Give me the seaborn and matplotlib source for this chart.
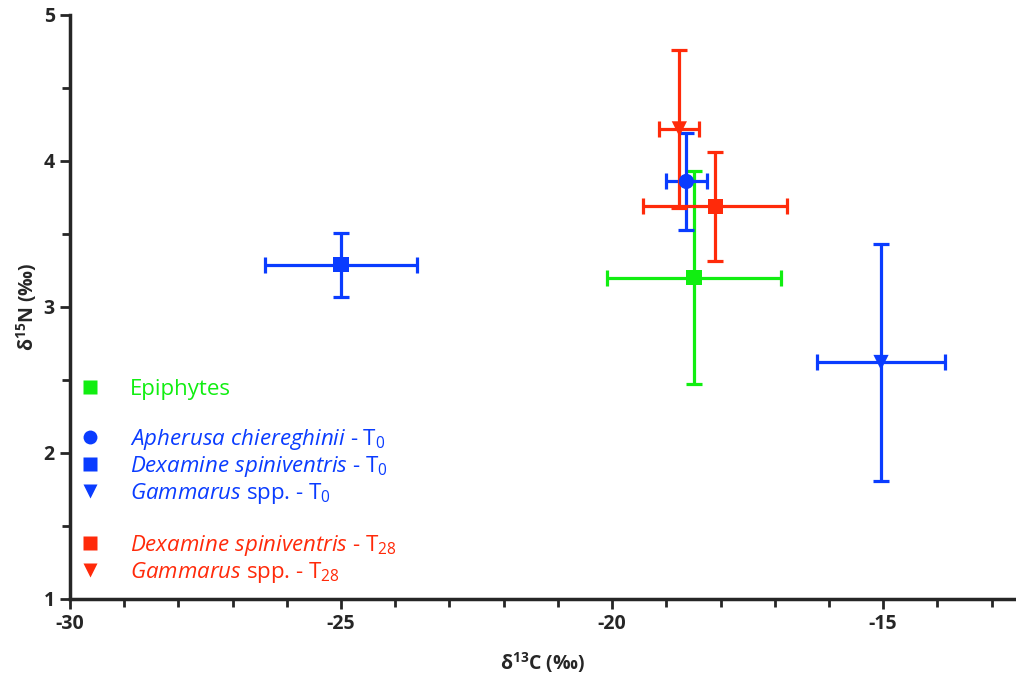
import numpy as np
import pandas as pd
import seaborn as sns
import matplotlib.pyplot as plt
from matplotlib.lines import Line2D

# Data (mean +/- SD)
groups = ["Epiphytes", "Apherusa T0", "Dexamine T0", "Gammarus T0", "Dexamine T28", "Gammarus T28"]
d13c = [-18.49, -18.63, -25.0, -15.04, -18.10, -18.76]
d15n = [3.20, 3.86, 3.29, 2.62, 3.69, 4.22]
d13c_sd = [1.61, 0.38, 1.41, 1.18, 1.33, 0.37]
d15n_sd = [0.73, 0.33, 0.22, 0.81, 0.375, 0.54]

legend_labels = [
    "Epiphytes",
    r"$\it{Apherusa\ chiereghinii}$ - T$_0$",
    r"$\it{Dexamine\ spiniventris}$ - T$_0$",
    r"$\it{Gammarus}$ spp. - T$_0$",
    r"$\it{Dexamine\ spiniventris}$ - T$_{28}$",
    r"$\it{Gammarus}$ spp. - T$_{28}$",
]

green, blue, red = "#11ee11", "#0a3cff", "#ff2a0a"
colors = dict(zip(groups, [green, blue, blue, blue, red, red]))
markers = dict(zip(groups, ["s", "o", "s", "v", "s", "v"]))

df = pd.DataFrame({"group": groups, "d13C": d13c, "d15N": d15n,
                   "sdC": d13c_sd, "sdN": d15n_sd})

sns.set_theme(style="ticks")
plt.rcParams["font.family"] = ["Open Sans", "DejaVu Sans"]
plt.rcParams["mathtext.fontset"] = "custom"
plt.rcParams["mathtext.rm"] = "Open Sans"
plt.rcParams["mathtext.it"] = "Open Sans:italic"
plt.rcParams["mathtext.bf"] = "Open Sans:bold"
plt.rcParams["axes.unicode_minus"] = False

fig = plt.figure(figsize=(10.16, 6.82), dpi=100)
ax = fig.add_axes([70 / 1016, 83 / 682, 946 / 1016, 584 / 682])

# error bars first, markers on top
for _, r in df.iterrows():
    ax.errorbar(r["d13C"], r["d15N"], xerr=r["sdC"], yerr=r["sdN"], fmt="none",
                ecolor=colors[r["group"]], elinewidth=2.3, capsize=6, capthick=2.3,
                zorder=2)

sns.scatterplot(data=df, x="d13C", y="d15N", hue="group", style="group",
                palette=colors, markers=markers, s=120, edgecolor="none",
                legend=False, ax=ax, zorder=3)

ax.set_xlim(-30, -12.55)
ax.set_ylim(1, 5)
ax.set_xticks([-30, -25, -20, -15])
ax.set_xticks(np.arange(-30, -12, 1), minor=True)
ax.set_yticks([1, 2, 3, 4, 5])
ax.set_yticks(np.arange(1, 5.01, 0.5), minor=True)
ax.tick_params(axis="both", which="major", length=7, width=2, direction="out",
               labelsize=14, pad=4)
ax.tick_params(axis="both", which="minor", length=6, width=2, direction="out")
for lab in ax.get_xticklabels() + ax.get_yticklabels():
    lab.set_fontweight("bold")

sns.despine(ax=ax)
ax.spines["left"].set_linewidth(2.5)
ax.spines["bottom"].set_linewidth(2.5)

ax.set_xlabel(r"δ$^{\mathbf{13}}$C (‰)", fontsize=14, fontweight="bold", labelpad=12)
ax.set_ylabel(r"δ$^{\mathbf{15}}$N (‰)", fontsize=14, fontweight="bold", labelpad=3)

# legend with blank spacer rows between groups
handles, labels, lcolors = [], [], []
order = [0, None, 1, 2, 3, None, 4, 5]
for i in order:
    if i is None:
        handles.append(Line2D([], [], linestyle="none", marker=None))
        labels.append(r"T$_0$")  # invisible spacer, same height as other rows
        lcolors.append("none")
    else:
        g = groups[i]
        handles.append(Line2D([], [], linestyle="none", marker=markers[g],
                              markersize=10,
                              markerfacecolor=colors[g], markeredgecolor="none"))
        labels.append(legend_labels[i])
        lcolors.append(colors[g])

leg = ax.legend(handles, labels, loc="lower left", bbox_to_anchor=(-0.006, 0.0),
                frameon=False, fontsize=16, labelspacing=0.08, handletextpad=1.3,
                borderaxespad=0.25, handlelength=1.0)
for txt, c in zip(leg.get_texts(), lcolors):
    txt.set_color(c)

fig.savefig("out.png", dpi=100)
